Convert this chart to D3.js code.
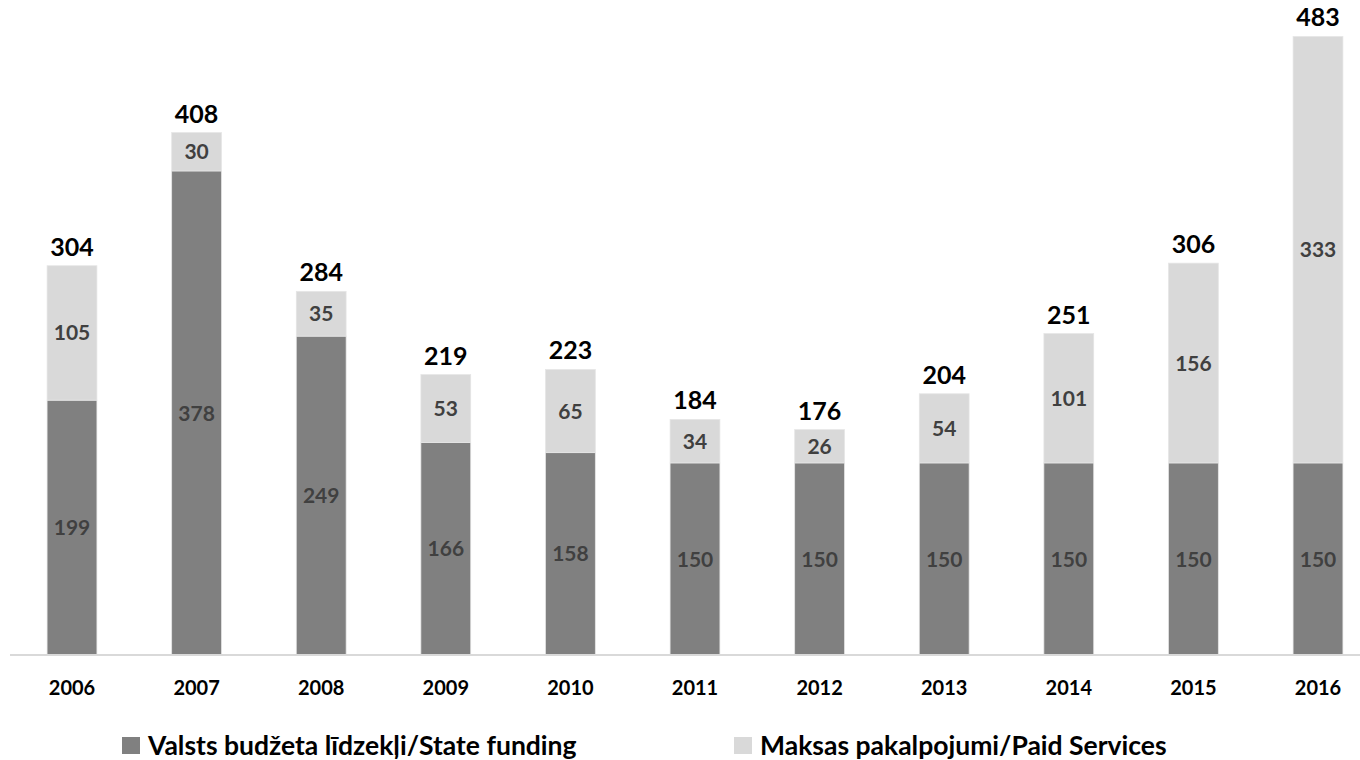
<!DOCTYPE html>
<html>
<head>
<meta charset="utf-8">
<script src="https://cdn.jsdelivr.net/npm/d3@7"></script>
<style>
	html, body { margin: 0; padding: 0; background: #fff; }
	svg text { font-family: Lato, Calibri, 'Open Sans', sans-serif; font-weight: bold; }
</style>
</head>
<body>
<div id="chart"></div>
<script>
	'use strict';
	var years = ['2006', '2007', '2008', '2009', '2010', '2011', '2012', '2013', '2014', '2015', '2016'];
	var stateFunding = [199, 378, 249, 166, 158, 150, 150, 150, 150, 150, 150];
	var paidServices = [105, 30, 35, 53, 65, 34, 26, 54, 101, 156, 333];
	var totals = [304, 408, 284, 219, 223, 184, 176, 204, 251, 306, 483];
	var seriesNames = ['Valsts budžeta līdzekļi/State funding', 'Maksas pakalpojumi/Paid Services'];
	var seriesColors = ['#808080', '#d9d9d9'];

	var width = 1360, height = 760;
	var baseY = 655;

	var svg = d3.select('#chart')
		.append('svg')
		.attr('width', width)
		.attr('height', height);

	var x = d3.scaleBand()
		.domain(years)
		.range([9.7, 1380.3])
		.paddingInner(0.6)
		.paddingOuter(0.3);

	var y = d3.scaleLinear()
		.domain([0, 500])
		.range([baseY, baseY - 500 * 1.2806]);

	var rows = years.map(function (yr, i) {
		return {year: yr, s0: stateFunding[i], s1: paidServices[i], total: totals[i]};
	});
	var stack = d3.stack().keys(['s0', 's1'])(rows);

	// bars
	svg.selectAll('g.series')
		.data(stack)
		.enter()
		.append('g')
		.attr('class', 'series')
		.attr('fill', function (d, i) { return seriesColors[i]; })
		.selectAll('rect')
		.data(function (d) { return d; })
		.enter()
		.append('rect')
		.attr('x', function (d) { return x(d.data.year); })
		.attr('width', x.bandwidth())
		.attr('y', function (d) { return y(d[1]); })
		.attr('height', function (d) { return y(d[0]) - y(d[1]); })
		.attr('stroke', '#e6e6e6')
		.attr('stroke-width', 0.75);

	// segment labels
	svg.selectAll('g.labels')
		.data(stack)
		.enter()
		.append('g')
		.attr('class', 'labels')
		.selectAll('text')
		.data(function (d) { return d.map(function (p) { return {p: p, key: d.key}; }); })
		.enter()
		.append('text')
		.attr('x', function (d) { return x(d.p.data.year) + x.bandwidth() / 2; })
		.attr('y', function (d) { return (y(d.p[0]) + y(d.p[1])) / 2; })
		.attr('dy', '0.36em')
		.attr('text-anchor', 'middle')
		.attr('font-size', 21)
		.attr('fill', '#404040')
		.text(function (d) { return d.p.data[d.key]; });

	// totals
	svg.selectAll('text.total')
		.data(rows)
		.enter()
		.append('text')
		.attr('class', 'total')
		.attr('x', function (d) { return x(d.year) + x.bandwidth() / 2; })
		.attr('y', function (d) { return y(d.total) - 10; })
		.attr('text-anchor', 'middle')
		.attr('font-size', 25)
		.attr('fill', '#000')
		.text(function (d) { return d.total; });

	// x axis
	var xAxis = svg.append('g')
		.attr('transform', 'translate(0,' + baseY + ')')
		.call(d3.axisBottom(x).tickSize(0).tickPadding(0));
	xAxis.select('.domain').remove();
	xAxis.append('line')
		.attr('x1', 10)
		.attr('x2', 1360)
		.attr('stroke', '#d9d9d9')
		.attr('stroke-width', 2);
	xAxis.selectAll('.tick text')
		.attr('y', 40)
		.attr('dy', 0)
		.attr('font-size', 20)
		.attr('fill', '#000')
		.style('font-family', 'Lato, Calibri, sans-serif')
		.style('font-weight', 'bold');

	// legend
	var legendX = [122, 734];
	var legend = svg.selectAll('g.legend')
		.data(seriesNames)
		.enter()
		.append('g')
		.attr('class', 'legend')
		.attr('transform', function (d, i) { return 'translate(' + legendX[i] + ',737)'; });
	legend.append('rect')
		.attr('width', 18)
		.attr('height', 17)
		.attr('fill', function (d, i) { return seriesColors[i]; });
	legend.append('text')
		.attr('x', 26)
		.attr('y', 17.5)
		.attr('font-size', 26.5)
		.attr('fill', '#000')
		.text(function (d) { return d; });
</script>
</body>
</html>
